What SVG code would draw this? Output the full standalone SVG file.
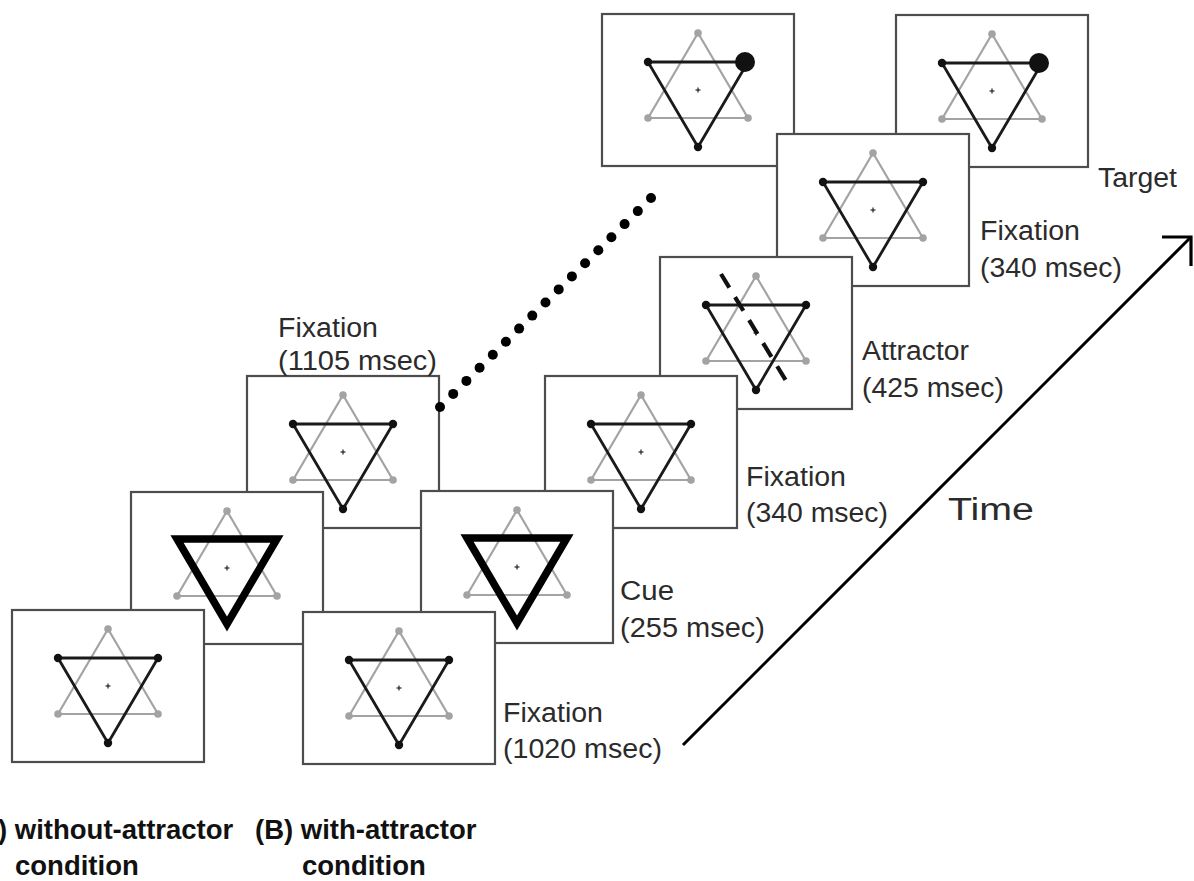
<svg xmlns="http://www.w3.org/2000/svg" xmlns:xlink="http://www.w3.org/1999/xlink" width="1194" height="881" viewBox="0 0 1194 881">
  <style>
    .frame { fill: #ffffff; stroke: #4d4d4d; stroke-width: 2.2; }
    .gray-tri { fill: none; stroke: #a3a3a3; stroke-width: 2.2; stroke-linejoin: round; }
    .black-tri { fill: none; stroke: #1a1a1a; stroke-width: 2.8; stroke-linejoin: round; }
    .cue-tri { fill: none; stroke: #000000; stroke-width: 7.5; stroke-linejoin: miter; }
    .gdot { fill: #a3a3a3; }
    .bdot { fill: #111111; }
    .cross { stroke: #222222; stroke-width: 1.2; }
    .lbl { font-family: "Liberation Sans", Arial, sans-serif; font-size: 27px; fill: #2b2b2b; }
    .cond { font-family: "Liberation Sans", Arial, sans-serif; font-size: 27.5px; font-weight: bold; fill: #111111; }
    .connector { fill: none; stroke: #000000; }
    .dot { fill: #000000; }
  </style>
  <defs>
    <!-- gray upward triangle with its corner dots and the fixation cross -->
    <g id="base">
      <polygon class="gray-tri" points="0,-57 50,28 -50,28"/>
      <circle class="gdot" cx="0" cy="-57" r="3.8"/>
      <circle class="gdot" cx="50" cy="28" r="3.8"/>
      <circle class="gdot" cx="-50" cy="28" r="3.8"/>
      <line class="cross" x1="-2.5" y1="0" x2="2.5" y2="0"/>
      <line class="cross" x1="0" y1="-2.5" x2="0" y2="2.5"/>
    </g>
    <!-- fixation display: both triangles with dots -->
    <g id="star-fix">
      <use xlink:href="#base"/>
      <polygon class="black-tri" points="-50,-28 50,-28 0,57"/>
      <circle class="bdot" cx="-50" cy="-28" r="4.2"/>
      <circle class="bdot" cx="50" cy="-28" r="4.2"/>
      <circle class="bdot" cx="0" cy="57" r="4.2"/>
    </g>
    <!-- cue display: bold downward triangle -->
    <g id="star-cue">
      <use xlink:href="#base"/>
      <polygon class="cue-tri" points="-50,-29 50,-29 0,56"/>
    </g>
    <!-- target display: large dot at the upper right corner -->
    <g id="star-target">
      <use xlink:href="#base"/>
      <polygon class="black-tri" points="-50,-28 50,-28 0,57"/>
      <circle class="bdot" cx="-50" cy="-28" r="4.2"/>
      <circle class="bdot" cx="0" cy="57" r="4.2"/>
      <circle class="bdot" cx="47" cy="-28" r="10"/>
    </g>
    <!-- attractor display: fixation plus a dashed bar -->
    <g id="star-attr">
      <use xlink:href="#star-fix"/>
      <line x1="-35" y1="-59" x2="32" y2="51" stroke="#111111" stroke-width="4.2" stroke-dasharray="16 11"/>
    </g>
  </defs>

  <!-- frames are drawn from the back (later in time) to the front -->
  <g id="a-target">
    <rect class="frame" x="602" y="14" width="192" height="152"/>
    <use xlink:href="#star-target" transform="translate(698,90)"/>
  </g>
  <g id="b-target">
    <rect class="frame" x="896" y="15" width="192" height="152"/>
    <use xlink:href="#star-target" transform="translate(992,91)"/>
  </g>
  <g id="b-fixation-3">
    <rect class="frame" x="777" y="134" width="192" height="152"/>
    <use xlink:href="#star-fix" transform="translate(873,210)"/>
  </g>
  <g id="b-attractor">
    <rect class="frame" x="660" y="257" width="192" height="152"/>
    <use xlink:href="#star-attr" transform="translate(756,333)"/>
  </g>
  <g id="b-fixation-2">
    <rect class="frame" x="545" y="376" width="192" height="152"/>
    <use xlink:href="#star-fix" transform="translate(641,452)"/>
  </g>
  <g id="a-fixation-2">
    <rect class="frame" x="247" y="376" width="192" height="152"/>
    <use xlink:href="#star-fix" transform="translate(343,452)"/>
  </g>
  <g id="b-cue">
    <rect class="frame" x="421" y="491" width="192" height="152"/>
    <use xlink:href="#star-cue" transform="translate(517,567)"/>
  </g>
  <g id="a-cue">
    <rect class="frame" x="131" y="492" width="192" height="152"/>
    <use xlink:href="#star-cue" transform="translate(227,568)"/>
  </g>
  <g id="b-fixation-1">
    <rect class="frame" x="303" y="612" width="192" height="152"/>
    <use xlink:href="#star-fix" transform="translate(399,688)"/>
  </g>
  <g id="a-fixation-1">
    <rect class="frame" x="12" y="610" width="192" height="152"/>
    <use xlink:href="#star-fix" transform="translate(108,686)"/>
  </g>

  <g id="connectors">
    <!-- dotted continuation toward the target: 17 evenly spaced dots -->
    <g id="dotted-link">
      <circle class="dot" cx="440.0" cy="407.0" r="5"/>
      <circle class="dot" cx="453.2" cy="393.9" r="5"/>
      <circle class="dot" cx="466.4" cy="380.9" r="5"/>
      <circle class="dot" cx="479.6" cy="367.8" r="5"/>
      <circle class="dot" cx="492.8" cy="354.8" r="5"/>
      <circle class="dot" cx="505.9" cy="341.7" r="5"/>
      <circle class="dot" cx="519.1" cy="328.6" r="5"/>
      <circle class="dot" cx="532.3" cy="315.6" r="5"/>
      <circle class="dot" cx="545.5" cy="302.5" r="5"/>
      <circle class="dot" cx="558.7" cy="289.4" r="5"/>
      <circle class="dot" cx="571.9" cy="276.4" r="5"/>
      <circle class="dot" cx="585.1" cy="263.3" r="5"/>
      <circle class="dot" cx="598.3" cy="250.3" r="5"/>
      <circle class="dot" cx="611.4" cy="237.2" r="5"/>
      <circle class="dot" cx="624.6" cy="224.1" r="5"/>
      <circle class="dot" cx="637.8" cy="211.1" r="5"/>
      <circle class="dot" cx="651.0" cy="198.0" r="5"/>
    </g>
    <!-- time axis -->
    <line class="connector" x1="683" y1="745" x2="1190" y2="238" stroke-width="3"/>
    <polyline class="connector" points="1162,237 1191,237 1191,266" stroke-width="3.2"/>
  </g>

  <g id="labels">
    <text class="lbl" x="1098" y="187" textLength="79" lengthAdjust="spacingAndGlyphs">Target</text>
    <text class="lbl" x="980" y="240" textLength="100" lengthAdjust="spacingAndGlyphs">Fixation</text>
    <text class="lbl" x="980" y="277" textLength="142" lengthAdjust="spacingAndGlyphs">(340 msec)</text>
    <text class="lbl" x="862" y="360" textLength="107" lengthAdjust="spacingAndGlyphs">Attractor</text>
    <text class="lbl" x="862" y="397" textLength="142" lengthAdjust="spacingAndGlyphs">(425 msec)</text>
    <text class="lbl" x="746" y="486" textLength="100" lengthAdjust="spacingAndGlyphs">Fixation</text>
    <text class="lbl" x="746" y="522" textLength="142" lengthAdjust="spacingAndGlyphs">(340 msec)</text>
    <text class="lbl" x="620" y="600" textLength="54" lengthAdjust="spacingAndGlyphs">Cue</text>
    <text class="lbl" x="620" y="637" textLength="145" lengthAdjust="spacingAndGlyphs">(255 msec)</text>
    <text class="lbl" x="503" y="722" textLength="100" lengthAdjust="spacingAndGlyphs">Fixation</text>
    <text class="lbl" x="503" y="758" textLength="159" lengthAdjust="spacingAndGlyphs">(1020 msec)</text>
    <text class="lbl" x="278" y="337" textLength="100" lengthAdjust="spacingAndGlyphs">Fixation</text>
    <text class="lbl" x="278" y="370" textLength="159" lengthAdjust="spacingAndGlyphs">(1105 msec)</text>
    <text class="lbl" x="948" y="520" style="font-size:31px" textLength="86" lengthAdjust="spacingAndGlyphs">Time</text>
    <text class="cond" x="-31" y="839">(A) without-attractor</text>
    <text class="cond" x="15" y="875">condition</text>
    <text class="cond" x="255" y="839">(B) with-attractor</text>
    <text class="cond" x="302" y="875">condition</text>
  </g>
</svg>
